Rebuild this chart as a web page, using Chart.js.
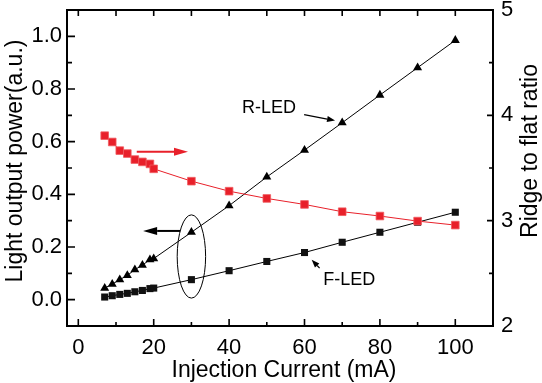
<!DOCTYPE html>
<html>
<head>
<meta charset="utf-8">
<script src="https://cdn.jsdelivr.net/npm/chart.js@4.4.0/dist/chart.umd.min.js"></script>
<style>
html,body{margin:0;padding:0;background:#fff;}
#wrap{width:542px;height:383px;position:relative;}
</style>
</head>
<body>
<div id="wrap"><canvas id="c" width="542" height="383"></canvas></div>
<script>
// ---- data ----
const current = [7, 9, 11, 13, 15, 17, 19, 20, 30, 40, 50, 60, 70, 80, 90, 100];
const fLed = [0.010, 0.015, 0.020, 0.024, 0.030, 0.035, 0.042, 0.044, 0.076, 0.110, 0.145, 0.179, 0.218, 0.256, 0.294, 0.332];
const rLed = [0.044, 0.059, 0.076, 0.092, 0.114, 0.131, 0.152, 0.156, 0.256, 0.357, 0.466, 0.568, 0.672, 0.777, 0.881, 0.985];
const ratio = [3.807, 3.747, 3.665, 3.637, 3.580, 3.558, 3.539, 3.492, 3.375, 3.280, 3.211, 3.154, 3.085, 3.044, 2.996, 2.958];
const xTicks = [0, 20, 40, 60, 80, 100];
const yTicks = [0.0, 0.2, 0.4, 0.6, 0.8, 1.0];
const y2Ticks = [2, 3, 4, 5];

const RED = '#e8202a';
const FONT = '"Liberation Sans", Arial, sans-serif';

function pts(xs, ys){ return xs.map((x,i)=>({x:x, y:ys[i]})); }
function noPad(s){ s.paddingTop = 0; s.paddingBottom = 0; s.paddingLeft = 0; s.paddingRight = 0; }

const frameTicks = {
  id: 'frameTicks',
  afterDatasetsDraw(chart){
    const ctx = chart.ctx, a = chart.chartArea;
    const sx = chart.scales.x, sy = chart.scales.y, sy2 = chart.scales.y2;
    ctx.save();
    ctx.strokeStyle = '#000';
    ctx.lineWidth = 2;
    ctx.strokeRect(a.left, a.top, a.right - a.left, a.bottom - a.top);
    ctx.lineWidth = 1.6;
    ctx.beginPath();
    for (let v = 0; v <= 100; v += 10) {
      const px = sx.getPixelForValue(v);
      const L = (v % 20 === 0) ? 7 : 4;
      ctx.moveTo(px, a.bottom); ctx.lineTo(px, a.bottom - L);
      ctx.moveTo(px, a.top); ctx.lineTo(px, a.top + 6);
    }
    for (let i = 0; i <= 10; i++) {
      const v = i / 10;
      const py = sy.getPixelForValue(v);
      const L = (i % 2 === 0) ? 8 : 5;
      ctx.moveTo(a.left, py); ctx.lineTo(a.left + L, py);
    }
    for (let i = 0; i <= 6; i++) {
      const v = 2 + i * 0.5;
      const py = sy2.getPixelForValue(v);
      const L = (i % 2 === 0) ? 6 : 4;
      ctx.moveTo(a.right, py); ctx.lineTo(a.right - L, py);
    }
    ctx.stroke();

    // annotations (positions in data coordinates of x / left y)
    const P = (x, y) => [sx.getPixelForValue(x), sy.getPixelForValue(y)];
    function arrow(x0, y0, x1, y1, color, lw, hl, hw){
      const [a0, b0] = P(x0, y0), [a1, b1] = P(x1, y1);
      const ang = Math.atan2(b1 - b0, a1 - a0);
      const bx = a1 - Math.cos(ang) * hl, by = b1 - Math.sin(ang) * hl;
      ctx.strokeStyle = color; ctx.fillStyle = color; ctx.lineWidth = lw;
      ctx.beginPath(); ctx.moveTo(a0, b0); ctx.lineTo(bx, by); ctx.stroke();
      ctx.beginPath();
      ctx.moveTo(a1, b1);
      ctx.lineTo(bx + Math.sin(ang) * hw, by - Math.cos(ang) * hw);
      ctx.lineTo(bx - Math.sin(ang) * hw, by + Math.cos(ang) * hw);
      ctx.closePath(); ctx.fill();
    }
    arrow(15.5, 0.562, 29.1, 0.562, RED, 2, 14, 4);
    arrow(27.0, 0.261, 17.2, 0.261, '#000', 2, 14, 4);
    arrow(59.9, 0.703, 68.1, 0.680, '#000', 1.2, 8, 3);
    arrow(64.0, 0.120, 61.9, 0.152, '#000', 1.2, 8, 3);

    // ellipse
    const [ex, ey] = P(30, 0.164);
    const rx = Math.abs(sx.getPixelForValue(33.77) - ex);
    const ry = Math.abs(sy.getPixelForValue(0.164 + 0.158) - ey);
    ctx.strokeStyle = '#000'; ctx.lineWidth = 1;
    ctx.beginPath(); ctx.ellipse(ex, ey, rx, ry, 0, 0, Math.PI * 2); ctx.stroke();

    ctx.fillStyle = '#000';
    ctx.font = '18px ' + FONT;
    ctx.textAlign = 'left'; ctx.textBaseline = 'alphabetic';
    let [tx, ty] = P(43.4, 0.708); ctx.fillText('R-LED', tx, ty);
    [tx, ty] = P(65.0, 0.057); ctx.fillText('F-LED', tx, ty);

    // axis titles
    ctx.font = '23px ' + FONT;
    ctx.textAlign = 'center'; ctx.textBaseline = 'alphabetic';
    ctx.fillText('Injection Current (mA)', 284, 377);
    ctx.save(); ctx.translate(22, 161); ctx.rotate(-Math.PI / 2);
    ctx.fillText('Light output power(a.u.)', 0, 0); ctx.restore();
    ctx.save(); ctx.translate(537, 151); ctx.rotate(-Math.PI / 2);
    ctx.fillText('Ridge to flat ratio', 0, 0); ctx.restore();
    ctx.restore();
  }
};

new Chart(document.getElementById('c'), {
  type: 'line',
  data: {
    datasets: [
      { label: 'ratio', data: pts(current, ratio), yAxisID: 'y2', borderColor: RED, borderWidth: 1,
        pointStyle: 'rect', pointRadius: 5.4, pointBackgroundColor: RED, pointBorderColor: '#f05a60', pointBorderWidth: 0.8, tension: 0 },
      { label: 'R-LED', data: pts(current, rLed), yAxisID: 'y', borderColor: '#000', borderWidth: 1,
        pointStyle: 'triangle', pointRadius: 5.2, pointBackgroundColor: '#000', pointBorderColor: '#000', pointBorderWidth: 0, tension: 0 },
      { label: 'F-LED', data: pts(current, fLed), yAxisID: 'y', borderColor: '#000', borderWidth: 1,
        pointStyle: 'rect', pointRadius: 5, pointBackgroundColor: '#111', pointBorderColor: '#111', pointBorderWidth: 0, tension: 0 }
    ]
  },
  options: {
    responsive: false,
    animation: false,
    devicePixelRatio: 1,
    layout: { padding: { top: 10, left: 0, right: 0, bottom: 0 } },
    plugins: { legend: { display: false }, tooltip: { enabled: false } },
    scales: {
      x: {
        type: 'linear', position: 'bottom', min: -3, max: 110,
        grid: { display: false, drawTicks: false }, border: { display: false },
        afterBuildTicks: s => { s.ticks = xTicks.map(v => ({ value: v })); },
        afterFit: s => { s.height = 57; noPad(s); },
        ticks: { padding: 9, color: '#000', font: { family: FONT, size: 22 }, maxRotation: 0, autoSkip: false,
          callback: v => String(v) }
      },
      y: {
        type: 'linear', position: 'left', min: -0.1, max: 1.1,
        grid: { display: false, drawTicks: false }, border: { display: false },
        afterBuildTicks: s => { s.ticks = yTicks.map(v => ({ value: v })); },
        afterFit: s => { s.width = 67; noPad(s); },
        ticks: { padding: 5, color: '#000', font: { family: FONT, size: 22 }, autoSkip: false,
          callback: v => Number(v).toFixed(1) }
      },
      y2: {
        type: 'linear', position: 'right', min: 2, max: 5,
        grid: { display: false, drawTicks: false }, border: { display: false },
        afterBuildTicks: s => { s.ticks = y2Ticks.map(v => ({ value: v })); },
        afterFit: s => { s.width = 49; noPad(s); },
        ticks: { padding: 8, color: '#000', font: { family: FONT, size: 22 }, autoSkip: false,
          callback: v => String(v) }
      }
    }
  },
  plugins: [frameTicks]
});
</script>
</body>
</html>
